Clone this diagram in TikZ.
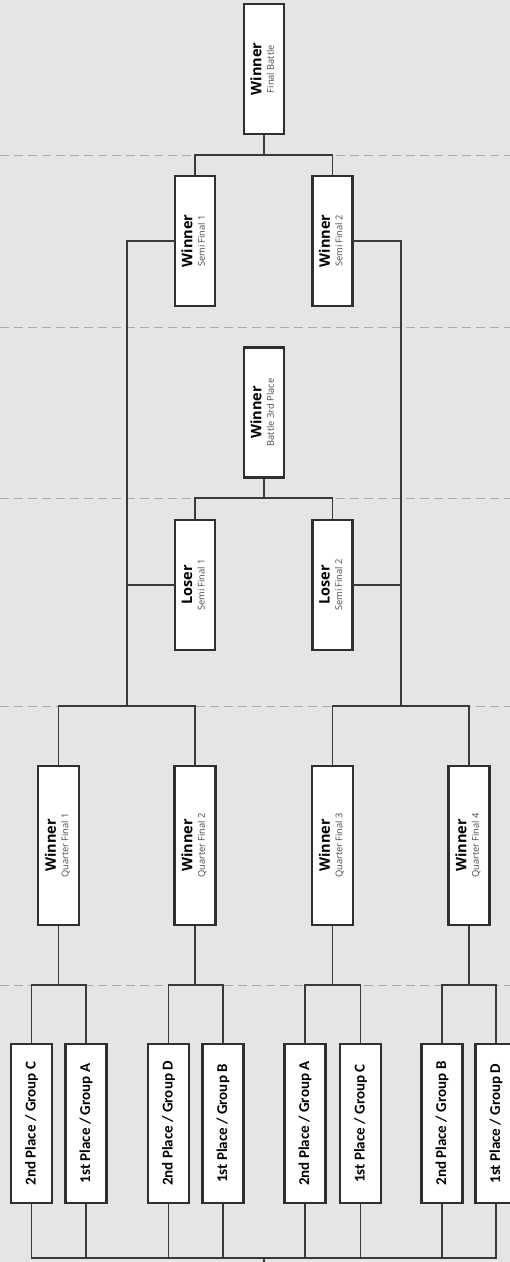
\documentclass[tikz,border=0pt]{standalone}
\usepackage{fontspec}
\setmainfont{Open Sans}
\newfontfamily\grpfont{Carlito}

\definecolor{bg}{HTML}{E4E5E7}
\definecolor{boxline}{HTML}{2F2F2F}
\definecolor{linkcol}{HTML}{3A3A3A}
\definecolor{sepcol}{HTML}{ABABAB}
\definecolor{subcol}{HTML}{4A4A4A}

% rotated two line label: result / round
\newcommand{\winbox}[2]{\rotatebox{90}{\begin{tabular}{@{}c@{}}%
  \fontsize{14.5}{15}\selectfont\bfseries #1\\[0.5pt]%
  \fontsize{9.3}{10}\selectfont\color{subcol}#2\end{tabular}}}
% rotated label of a group place
\newcommand{\grptxt}[1]{\rotatebox{90}{\grpfont\bfseries\fontsize{15}{15}\selectfont #1}}

\begin{document}
\begin{tikzpicture}[x=1pt,y=-1pt,
    box/.style={draw=boxline,line width=2.2pt,fill=white,inner sep=0pt,
      minimum width=40pt,minimum height=130pt},
    tallbox/.style={box,minimum width=41pt,minimum height=159pt},
    link/.style={draw=linkcol,line width=1.6pt},
    sep/.style={draw=sepcol,line width=1pt,dash pattern=on 9pt off 5pt}]
    % background and round separators
    \fill[bg] (0,0) rectangle (510,1262);
    \useasboundingbox (0,0) rectangle (510,1262);
    \foreach \y in {155,327,498,706,985}
        \draw[sep] (0,\y) -- (510,\y);

    % final and semi finals
    \node[box] (fin) at (264,69) {\winbox{Winner}{Final Battle}};
    \node[box] (sf1) at (195,241) {\winbox{Winner}{Semi Final 1}};
    \node[box] (sf2) at (332.5,241) {\winbox{Winner}{Semi Final 2}};
    % battle for 3rd place
    \node[box] (thd) at (264,412.5) {\winbox{Winner}{Battle 3rd Place}};
    \node[box] (ls1) at (195,585) {\winbox{Loser}{Semi Final 1}};
    \node[box] (ls2) at (332.5,585) {\winbox{Loser}{Semi Final 2}};
    % quarter finals
    \foreach \k/\x in {1/58.5,2/195,3/332.5,4/469}
        \node[tallbox] (qf\k) at (\x,845.5) {\winbox{Winner}{Quarter Final \k}};
    % group places
    \foreach \i/\x/\p/\g in {1/31.5/2nd/C,2/86/1st/A,3/168.5/2nd/D,4/223/1st/B,
                             5/305/2nd/A,6/360.5/1st/C,7/442/2nd/B,8/496/1st/D}
        \node[tallbox] (gp\i) at (\x,1123.5) {\grptxt{\p\ Place / Group \g}};

    % junctions
    \coordinate (j1) at (264,155);
    \coordinate (j2) at (264,498);
    \coordinate (jl) at (127,706);
    \coordinate (jr) at (401,706);
    \coordinate (row) at (0,985);
    \coordinate (bot) at (264,1258);

    \draw[link] (fin.south) -- (j1);
    \draw[link] (sf1.north) |- (j1) -| (sf2.north);
    \draw[link] (thd.south) -- (j2);
    \draw[link] (ls1.north) |- (j2) -| (ls2.north);
    % semi finals from quarter finals
    \draw[link] (sf1.west) -| (jl);
    \draw[link] (ls1.west) -- (ls1.west -| jl);
    \draw[link] (qf1.north) |- (jl) -| (qf2.north);
    \draw[link] (sf2.east) -| (jr);
    \draw[link] (ls2.east) -- (ls2.east -| jr);
    \draw[link] (qf3.north) |- (jr) -| (qf4.north);
    % quarter finals from groups
    \foreach \k in {1,...,4} {
        \pgfmathtruncatemacro{\a}{2*\k-1}
        \pgfmathtruncatemacro{\b}{2*\k}
        \draw[link] (qf\k.south) -- (qf\k.south |- row);
        \draw[link] (gp\a.north) |- (qf\k.south |- row) -| (gp\b.north);
    }
    % bottom bar
    \draw[link] (gp1.south) |- (bot) -| (gp8.south);
    \foreach \i in {2,...,7}
        \draw[link] (gp\i.south) -- (gp\i.south |- bot);
    \draw[link] (bot) -- ++(0,6);
\end{tikzpicture}
\end{document}
